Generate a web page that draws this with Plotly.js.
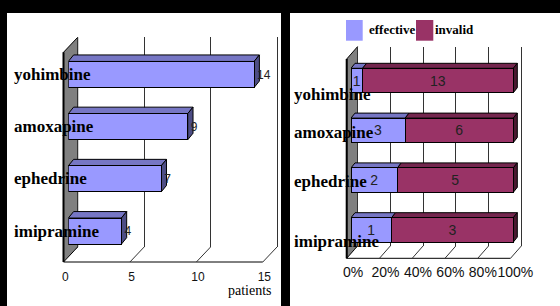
<!DOCTYPE html>
<html><head><meta charset="utf-8">
<script src="https://cdn.plot.ly/plotly-3.0.1.min.js"></script>
<style>html,body{margin:0;padding:0;background:#000;}#chart{width:560px;height:306px;}</style>
</head><body><div id="chart"></div>
<script>
// ---------------- data ----------------
const drugs = ['yohimbine', 'amoxapine', 'ephedrine', 'imipramine'];
const patients = [14, 9, 7, 4];
const seriesNames = ['effective', 'invalid'];
const effective = [1, 3, 2, 1];
const invalid = [13, 6, 5, 3];
const leftTicks = [0, 5, 10, 15];
const rightTicks = [0, 20, 40, 60, 80, 100];
const rightTickText = ['0%', '20%', '40%', '60%', '80%', '100%'];
const leftUnit = 'patients';

// ---------------- style / geometry (pixels) ----------------
const W = 560, H = 306;
const px = v => v / W, py = v => 1 - v / H;
const C = {eff:'#9999FF', inv:'#993366', effTop:'#7676C4', effSide:'#4D4D85', invTop:'#74264E', invSide:'#4A1830'};
const GL = {panel:[7,13,281,306], back:{x0:77.7,x1:277.0,top:37.3,floor:247}, depth:[14.2,15],
  range:[0,15], bar:{x0:68.3, ppu:13.27, top:48.4, slot:52.2, width:0.5, depth:[5.3,6.5]}};
const GR = {panel:[290,13,560,306], back:{x0:357.5,x1:521.3,top:46.7,floor:246}, depth:[10.8,12.3],
  range:[0,100], bar:{x0:351, ppu:1.623, top:55.6, slot:49.8, width:0.49, depth:[4,5]}};
const rightLabelShift = [-14, -2, -1, -12];
const leftLabelShift = [0, 0, 0, 0];

const shapes = [], annotations = [];

function panel(g, xref, ticks) {
  const [x0,y0,x1,y1] = g.panel;
  shapes.push({type:'rect', xref:'paper', yref:'paper', x0:px(x0), x1:px(x1), y0:py(y0), y1:py(y1),
    fillcolor:'#fff', line:{width:0}, layer:'below'});
  const b = g.back, [dx, dy] = g.depth;
  const fx0 = b.x0 - dx, fFloor = b.floor + dy, fTop = b.top + dy, fx1 = b.x1 - dx;
  // wall
  shapes.push({type:'path', xref:'paper', yref:'paper', layer:'below', fillcolor:'#808080',
    line:{color:'#000', width:1},
    path:`M${px(fx0)},${py(fFloor)} L${px(fx0)},${py(fTop)} L${px(b.x0)},${py(b.top)} L${px(b.x0)},${py(b.floor)} Z`});
  shapes.push({type:'line', xref:'paper', yref:'paper', layer:'below', x0:px(fx0), x1:px(fx0),
    y0:py(fFloor), y1:py(fTop), line:{color:'#000', width:2}});
  // floor front edge
  shapes.push({type:'line', xref:'paper', yref:'paper', layer:'below', x0:px(fx0), x1:px(fx1),
    y0:py(fFloor), y1:py(fFloor), line:{color:'#000', width:1}});
  // floor diagonals anchored at tick values of back axis
  ticks.forEach(t => shapes.push({type:'line', xref:xref, yref:'paper', layer:'below',
    xsizemode:'pixel', xanchor:t, x0:0, x1:-dx, ysizemode:'pixel', yanchor:py(b.floor), y0:0, y1:-dy,
    line:{color:'#333', width:1}}));
}
panel(GL, 'x', leftTicks);
panel(GR, 'x2', rightTicks);

function faces(xref, yref, g, i, a, bEnd, top, side, withSide) {
  const ddx = g.bar.depth[0] / g.bar.ppu, ddy = g.bar.depth[1] / g.bar.slot;
  const yt = i - g.bar.width / 2, yb = i + g.bar.width / 2;
  shapes.push({type:'path', xref, yref, layer:'below', fillcolor:top, line:{color:'#000', width:1},
    path:`M${a},${yt} L${bEnd},${yt} L${bEnd+ddx},${yt-ddy} L${a+ddx},${yt-ddy} Z`});
  if (withSide) shapes.push({type:'path', xref, yref, layer:'below', fillcolor:side, line:{color:'#000', width:1},
    path:`M${bEnd},${yt} L${bEnd+ddx},${yt-ddy} L${bEnd+ddx},${yb-ddy} L${bEnd},${yb} Z`});
}

const idx = drugs.map((d, i) => i);
const effPct = effective.map((v, i) => 100 * v / (v + invalid[i]));
const invPct = invalid.map((v, i) => 100 * v / (v + effective[i]));

patients.forEach((v, i) => faces('x3', 'y3', GL, i, 0, v, C.effTop, C.effSide, true));
effPct.forEach((v, i) => {
  faces('x4', 'y4', GR, i, 0, v, C.effTop, C.effSide, false);
  faces('x4', 'y4', GR, i, v, v + invPct[i], C.invTop, C.invSide, true);
});

// category labels
drugs.forEach((d, i) => {
  annotations.push({text:d, xref:'paper', yref:'y3', x:px(12), y:i, xanchor:'left', yanchor:'middle',
    yshift:leftLabelShift[i], showarrow:false, font:{family:'Liberation Serif', size:17, weight:'bold', color:'#000'}});
  annotations.push({text:d, xref:'paper', yref:'y4', x:px(292), y:i, xanchor:'left', yanchor:'middle',
    yshift:rightLabelShift[i], showarrow:false, font:{family:'Liberation Serif', size:17, weight:'bold', color:'#000'}});
});
annotations.push({text:leftUnit, xref:'paper', yref:'paper', x:px(250), y:py(290), xanchor:'center', yanchor:'middle',
  showarrow:false, font:{family:'Liberation Serif', size:14, color:'#000'}});

// custom legend
const legendBoxes = [[346, 362.7], [416, 433.3]];
const legendText = [367, 433];
seriesNames.forEach((n, k) => {
  shapes.push({type:'rect', xref:'paper', yref:'paper', layer:'below', x0:px(legendBoxes[k][0]), x1:px(legendBoxes[k][1]),
    y0:py(20), y1:py(40.7), fillcolor:k ? C.inv : C.eff, line:{width:0}});
  annotations.push({text:n, xref:'paper', yref:'paper', x:px(legendText[k]), y:py(29.5), xanchor:'left', yanchor:'middle',
    showarrow:false, font:{family:'Liberation Serif', size:13, weight:'bold', color:'#000'}});
});

const empty = (xa, ya) => ({type:'scatter', x:[], y:[], xaxis:xa, yaxis:ya, showlegend:false, hoverinfo:'skip'});
const barLine = {color:'#000', width:1};
const data = [
  empty('x', 'y'), empty('x2', 'y2'),
  {type:'bar', orientation:'h', x:patients, y:idx, xaxis:'x3', yaxis:'y3', width:GL.bar.width,
   marker:{color:C.eff, line:barLine}, text:patients.map(String), textposition:'outside', cliponaxis:false,
   textfont:{family:'Liberation Sans', size:12, color:'#222'}, showlegend:false, hoverinfo:'skip'},
  {type:'bar', orientation:'h', name:seriesNames[0], x:effPct, y:idx, xaxis:'x4', yaxis:'y4', width:GR.bar.width,
   marker:{color:C.eff, line:barLine}, text:effective.map(String), textposition:'inside', insidetextanchor:'middle',
   textangle:0, constraintext:'none', cliponaxis:false,
   textfont:{family:'Liberation Sans', size:14, color:'#222'}, showlegend:false, hoverinfo:'skip'},
  {type:'bar', orientation:'h', name:seriesNames[1], x:invPct, y:idx, xaxis:'x4', yaxis:'y4', width:GR.bar.width,
   marker:{color:C.inv, line:barLine}, text:invalid.map(String), textposition:'inside', insidetextanchor:'middle',
   textangle:0, constraintext:'none', cliponaxis:false,
   textfont:{family:'Liberation Sans', size:14, color:'#222'}, showlegend:false, hoverinfo:'skip'}
];

function backAxes(g, pad, ticks) {
  const ppu = (g.back.x1 - g.back.x0) / (g.range[1] - g.range[0]);
  return [
    {domain:[px(g.back.x0 - pad * ppu), px(g.back.x1 + pad * ppu)], range:[g.range[0] - pad, g.range[1] + pad],
     showgrid:true, gridcolor:'#333', gridwidth:1, tickvals:ticks, showticklabels:false, zeroline:false, ticks:'', showline:false, fixedrange:true},
    {domain:[py(g.back.floor), py(g.back.top)], range:[0, 1], showgrid:false, zeroline:false, showticklabels:false, ticks:'', showline:false, fixedrange:true}
  ];
}
const [xa1, ya1] = backAxes(GL, 0.3, leftTicks);
const [xa2, ya2] = backAxes(GR, 2, rightTicks);
xa1.anchor = 'y'; ya1.anchor = 'x'; xa2.anchor = 'y2'; ya2.anchor = 'x2';

const layout = {
  width:W, height:H, margin:{l:0, r:0, t:0, b:0, pad:0},
  paper_bgcolor:'#000', plot_bgcolor:'rgba(0,0,0,0)', barmode:'stack', hovermode:false, showlegend:false,
  xaxis:xa1, yaxis:ya1, xaxis2:xa2, yaxis2:ya2,
  xaxis3:{domain:[px(GL.bar.x0), px(GL.bar.x0 + GL.bar.ppu * 15)], range:[0, 15], anchor:'free',
    position:py(GL.back.floor + GL.depth[1]), tickmode:'array', tickvals:leftTicks, tickangle:0, ticks:'', showgrid:false, zeroline:false,
    showline:false, ticklabelshift:-3, ticklabelstandoff:6, tickfont:{family:'Liberation Sans', size:12, color:'#111'}, fixedrange:true},
  yaxis3:{domain:[py(GL.bar.top + 4 * GL.bar.slot), py(GL.bar.top)], range:[3.5, -0.5], anchor:'x3', visible:false, fixedrange:true},
  xaxis4:{domain:[px(GR.bar.x0), px(GR.bar.x0 + GR.bar.ppu * 105)], range:[0, 105], anchor:'free',
    position:py(GR.back.floor + GR.depth[1]), tickmode:'array', tickvals:rightTicks, ticktext:rightTickText, tickangle:0, ticks:'', showgrid:false,
    zeroline:false, showline:false, ticklabelshift:2, ticklabelstandoff:4, tickfont:{family:'Liberation Sans', size:14, color:'#111'}, fixedrange:true},
  yaxis4:{domain:[py(GR.bar.top + 4 * GR.bar.slot), py(GR.bar.top)], range:[3.5, -0.5], anchor:'x4', visible:false, fixedrange:true},
  shapes, annotations
};
Plotly.newPlot('chart', data, layout, {staticPlot:true, displayModeBar:false});
</script></body></html>
